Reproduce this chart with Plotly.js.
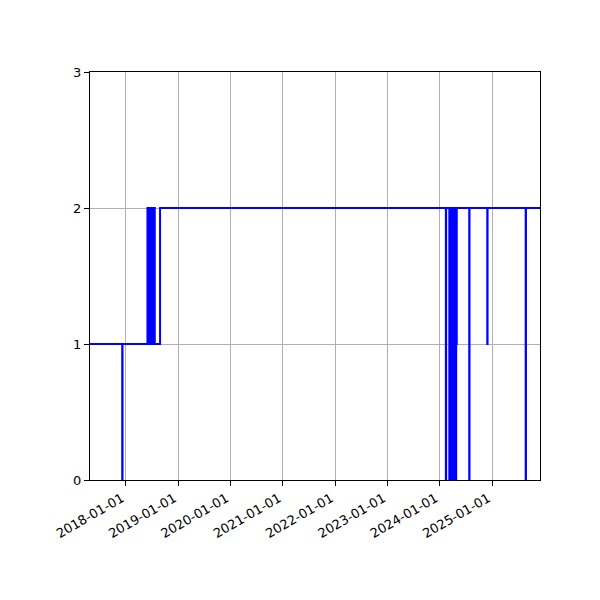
<!DOCTYPE html>
<html>
<head>
<meta charset="utf-8">
<script src="https://cdn.plot.ly/plotly-3.0.1.min.js"></script>
<style>html,body{margin:0;padding:0;background:#fff;}#chart{width:600px;height:600px;}</style>
</head>
<body>
<div id="chart"></div>
<script>
const dates = [
  '2017-04-26','2017-12-07','2017-12-09',
  '2018-06-01','2018-06-06','2018-06-10','2018-06-15','2018-06-19','2018-06-24',
  '2018-06-28','2018-07-03','2018-07-07','2018-07-12','2018-07-16','2018-07-22',
  '2018-08-28',
  '2024-02-13','2024-02-15',
  '2024-03-08','2024-03-13','2024-03-18','2024-03-23','2024-03-28','2024-04-02',
  '2024-04-07','2024-04-12','2024-04-17','2024-04-25','2024-04-29',
  '2024-07-25','2024-07-27',
  '2024-11-28','2024-11-30',
  '2025-08-23','2025-08-25',
  '2025-12-01'
];
const values = [
  1,0,1,
  2,1,2,1,2,1,
  2,1,2,1,2,1,
  2,
  0,2,
  0,2,0,2,0,2,
  0,2,0,1,2,
  0,2,
  1,2,
  0,2,
  2
];
const xTicks = ['2018-01-01','2019-01-01','2020-01-01','2021-01-01','2022-01-01','2023-01-01','2024-01-01','2025-01-01'];
const yTicks = [0,1,2,3];

const trace = {
  x: dates, y: values, type: 'scatter', mode: 'lines',
  line: {shape: 'hv', color: '#0000ff', width: 2}
};
const axisCommon = {
  showline: true, mirror: true, linecolor: '#000', linewidth: 1,
  ticks: 'outside', ticklen: 5, tickwidth: 1, tickcolor: '#000',
  showgrid: true, gridcolor: '#b0b0b0', gridwidth: 1, zeroline: false,
  tickfont: {family: 'DejaVu Sans', size: 13, color: '#000'}
};
const layout = {
  width: 600, height: 600,
  margin: {l: 90, r: 60, t: 72, b: 120},
  paper_bgcolor: '#fff', plot_bgcolor: '#fff',
  showlegend: false,
  xaxis: Object.assign({}, axisCommon, {
    type: 'date', range: ['2017-04-26','2025-12-01'],
    tickmode: 'array', tickvals: xTicks, ticktext: xTicks, tickangle: -30,
    ticklabelshift: -4
  }),
  yaxis: Object.assign({}, axisCommon, {
    range: [0,3], tickmode: 'array', tickvals: yTicks, ticktext: yTicks.map(String)
  })
};
Plotly.newPlot('chart', [trace], layout, {displayModeBar: false, staticPlot: true});
</script>
</body>
</html>
